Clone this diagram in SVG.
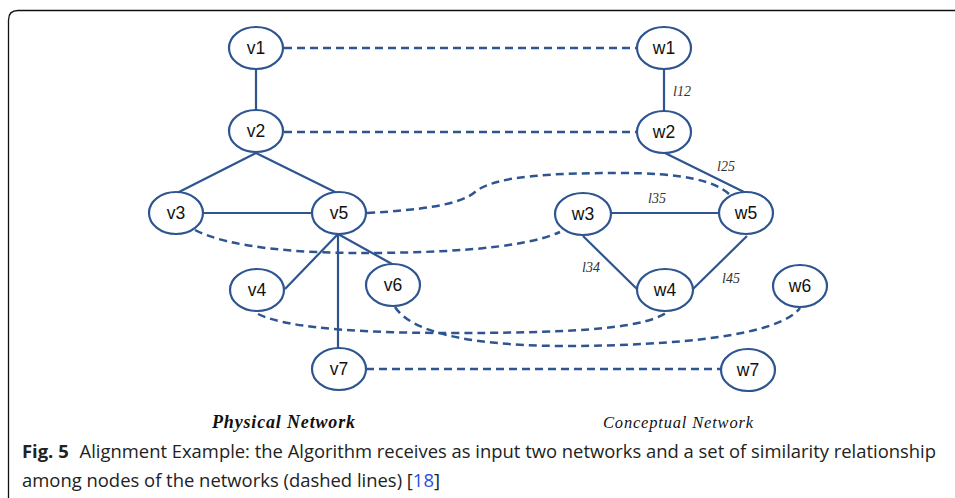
<svg xmlns="http://www.w3.org/2000/svg" width="955" height="498" viewBox="0 0 955 498">
<style>
.n ellipse{fill:#fff;stroke:#2e5590;stroke-width:2.2}
.n text{font-family:"Liberation Sans",Arial,sans-serif;font-size:17.5px;fill:#111;text-anchor:middle}
.e line,.e path{stroke:#2e5590;stroke-width:2.2;fill:none}
.d{stroke:#2e5590;stroke-width:2.5;fill:none;stroke-dasharray:8 5}
.lb{font-family:"Liberation Serif","DejaVu Serif",serif;font-style:italic;font-size:14px;fill:#333}
.ttl{font-family:"Liberation Serif","DejaVu Serif",serif;font-style:italic;fill:#111}
.cap{font-family:"Open Sans","Noto Sans",sans-serif;font-size:18px;fill:#222}
</style>
<rect width="955" height="498" fill="#fff"/>
<path d="M8.5,498 L8.5,20 Q8.5,10.5 18,10.5 L955,10.5" fill="none" stroke="#111" stroke-width="1.3"/>
<g id="connectors">
 <g class="e">
  <line x1="256" y1="69" x2="256" y2="110"/>
  <line x1="256" y1="153" x2="177" y2="193"/>
  <line x1="256" y1="153" x2="337" y2="193"/>
  <line x1="203" y1="213" x2="312" y2="213"/>
  <line x1="338" y1="234" x2="285" y2="289"/>
  <line x1="338" y1="234" x2="392" y2="264"/>
  <line x1="338" y1="234" x2="338" y2="348"/>
  <line x1="664" y1="69" x2="664" y2="111"/>
  <line x1="665" y1="153" x2="746" y2="193"/>
  <line x1="611" y1="213" x2="719" y2="213"/>
  <line x1="583" y1="236" x2="638" y2="290"/>
  <line x1="747" y1="236" x2="693" y2="289"/>
 </g>
 <line class="d" x1="284" y1="48" x2="637" y2="48"/>
 <line class="d" x1="284" y1="132" x2="637" y2="132"/>
 <line class="d" x1="366" y1="369" x2="721" y2="369"/>
 <path class="d" d="M367,213 C420,210 460,205 475,192 C495,175 560,173 620,173 C680,173 715,180 730,195"/>
 <path class="d" d="M195,230 C230,248 300,253 360,253 C430,253 520,250 560,232"/>
 <path class="d" d="M258,314 C290,330 380,333 450,333 C560,333 640,330 666,313"/>
 <path class="d" d="M395,307 C410,330 460,345 560,346 C680,346 780,335 800,308"/>
 <text class="lb" x="673" y="96">l12</text>
 <text class="lb" x="717" y="171">l25</text>
 <text class="lb" x="648" y="203">l35</text>
 <text class="lb" x="582" y="272">l34</text>
 <text class="lb" x="722" y="283">l45</text>
</g>
<g id="v1" class="n"><ellipse cx="256" cy="48" rx="27" ry="21"/><text x="256" y="54">v1</text></g>
<g id="v2" class="n"><ellipse cx="256" cy="131" rx="27" ry="21"/><text x="256" y="137">v2</text></g>
<g id="v3" class="n"><ellipse cx="176" cy="213" rx="27" ry="21"/><text x="176" y="219">v3</text></g>
<g id="v5" class="n"><ellipse cx="339" cy="213" rx="27" ry="21"/><text x="339" y="219">v5</text></g>
<g id="v4" class="n"><ellipse cx="257" cy="290" rx="27" ry="21"/><text x="257" y="296">v4</text></g>
<g id="v6" class="n"><ellipse cx="393" cy="285" rx="27" ry="21"/><text x="393" y="291">v6</text></g>
<g id="v7" class="n"><ellipse cx="339" cy="369" rx="27" ry="21"/><text x="339" y="375">v7</text></g>
<g id="w1" class="n"><ellipse cx="664" cy="48" rx="27" ry="21"/><text x="664" y="54">w1</text></g>
<g id="w2" class="n"><ellipse cx="664" cy="132" rx="27" ry="21"/><text x="664" y="138">w2</text></g>
<g id="w3" class="n"><ellipse cx="583" cy="214" rx="28" ry="21"/><text x="583" y="220">w3</text></g>
<g id="w5" class="n"><ellipse cx="746" cy="213" rx="27" ry="21"/><text x="746" y="219">w5</text></g>
<g id="w4" class="n"><ellipse cx="665" cy="290" rx="28" ry="21"/><text x="665" y="296">w4</text></g>
<g id="w6" class="n"><ellipse cx="800" cy="286" rx="27" ry="21"/><text x="800" y="292">w6</text></g>
<g id="w7" class="n"><ellipse cx="748" cy="370" rx="27" ry="21"/><text x="748" y="376">w7</text></g>
<text class="ttl" x="212" y="428" font-size="18" font-weight="bold" textLength="143">Physical Network</text>
<text class="ttl" x="603" y="428" font-size="16.5" textLength="150">Conceptual Network</text>
<text class="cap" x="22" y="458" textLength="914" lengthAdjust="spacingAndGlyphs"><tspan font-weight="bold">Fig. 5</tspan><tspan dx="6"> Alignment Example: the Algorithm receives as input two networks and a set of similarity relationship</tspan></text>
<text class="cap" x="22" y="487" textLength="418" lengthAdjust="spacingAndGlyphs">among nodes of the networks (dashed lines) [<tspan fill="#2a4fe0">18</tspan>]</text>
</svg>
